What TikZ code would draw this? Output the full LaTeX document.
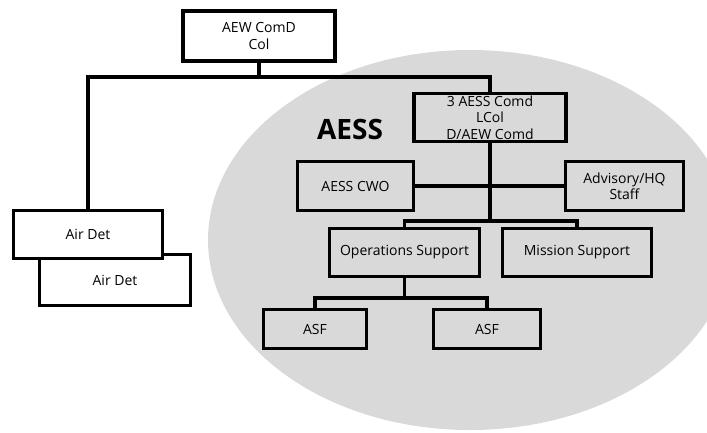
\documentclass[tikz,border=0pt]{standalone}
\usepackage{fontspec}
\setmainfont{Open Sans}
\begin{document}
\begin{tikzpicture}[x=1pt,y=-1pt,
  box/.style={draw,line width=3.6pt,inner sep=0pt,align=center,font=\fontsize{14}{16.5}\selectfont},
  link/.style={line width=3.6pt}]
 \useasboundingbox (0,0) rectangle (707,432);
 \fill[gray!30](470,240) ellipse [x radius=262,y radius=190];
 \node[font=\fontsize{28}{30}\bfseries] (lbl) at (350,129) {AESS};
 \node[box,minimum width=152,minimum height=50] (aew) at (259,36) {AEW ComD\\Col};
 \node[box,minimum width=152,minimum height=48] (aess) at (490,117.5) {3 AESS Comd\\LCol\\D/AEW Comd};
 \node[box,minimum width=116,minimum height=49] (cwo) at (355.5,186) {AESS CWO};
 \node[box,minimum width=118,minimum height=49] (adv) at (624.5,186) {Advisory/HQ\\Staff};
 \node[box,minimum width=150,minimum height=48] (ops) at (404.5,252.5) {Operations Support};
 \node[box,minimum width=149,minimum height=48] (msn) at (577,252.5) {Mission Support};
 \node[box,minimum width=103,minimum height=39] (asfa) at (315,329) {ASF};
 \node[box,minimum width=107,minimum height=39] (asfb) at (487,329) {ASF};
 \node[box,fill=white,minimum width=151,minimum height=51] (detb) at (115,280) {Air Det};
 \node[box,fill=white,minimum width=149,minimum height=48] (deta) at (88,234.5) {Air Det};
 \coordinate (bus) at (0,77);
 \coordinate (midbus) at (0,221);
 \coordinate (lowbus) at (0,298);
 \draw[link](aew.south)--(aew.south |- bus);
 \draw[link](deta.north)|-(aess.north |- bus)--(aess.north);
 \draw[link](aess.south)--(aess.south |- midbus);
 \draw[link](cwo.east)--(adv.west);
 \draw[link](ops.north)|-(aess.south |- midbus)-|(msn.north);
 \draw[link](ops.south)--(ops.south |- lowbus);
 \draw[link](asfa.north)|-(ops.south |- lowbus)-|(asfb.north);
\end{tikzpicture}
\end{document}
